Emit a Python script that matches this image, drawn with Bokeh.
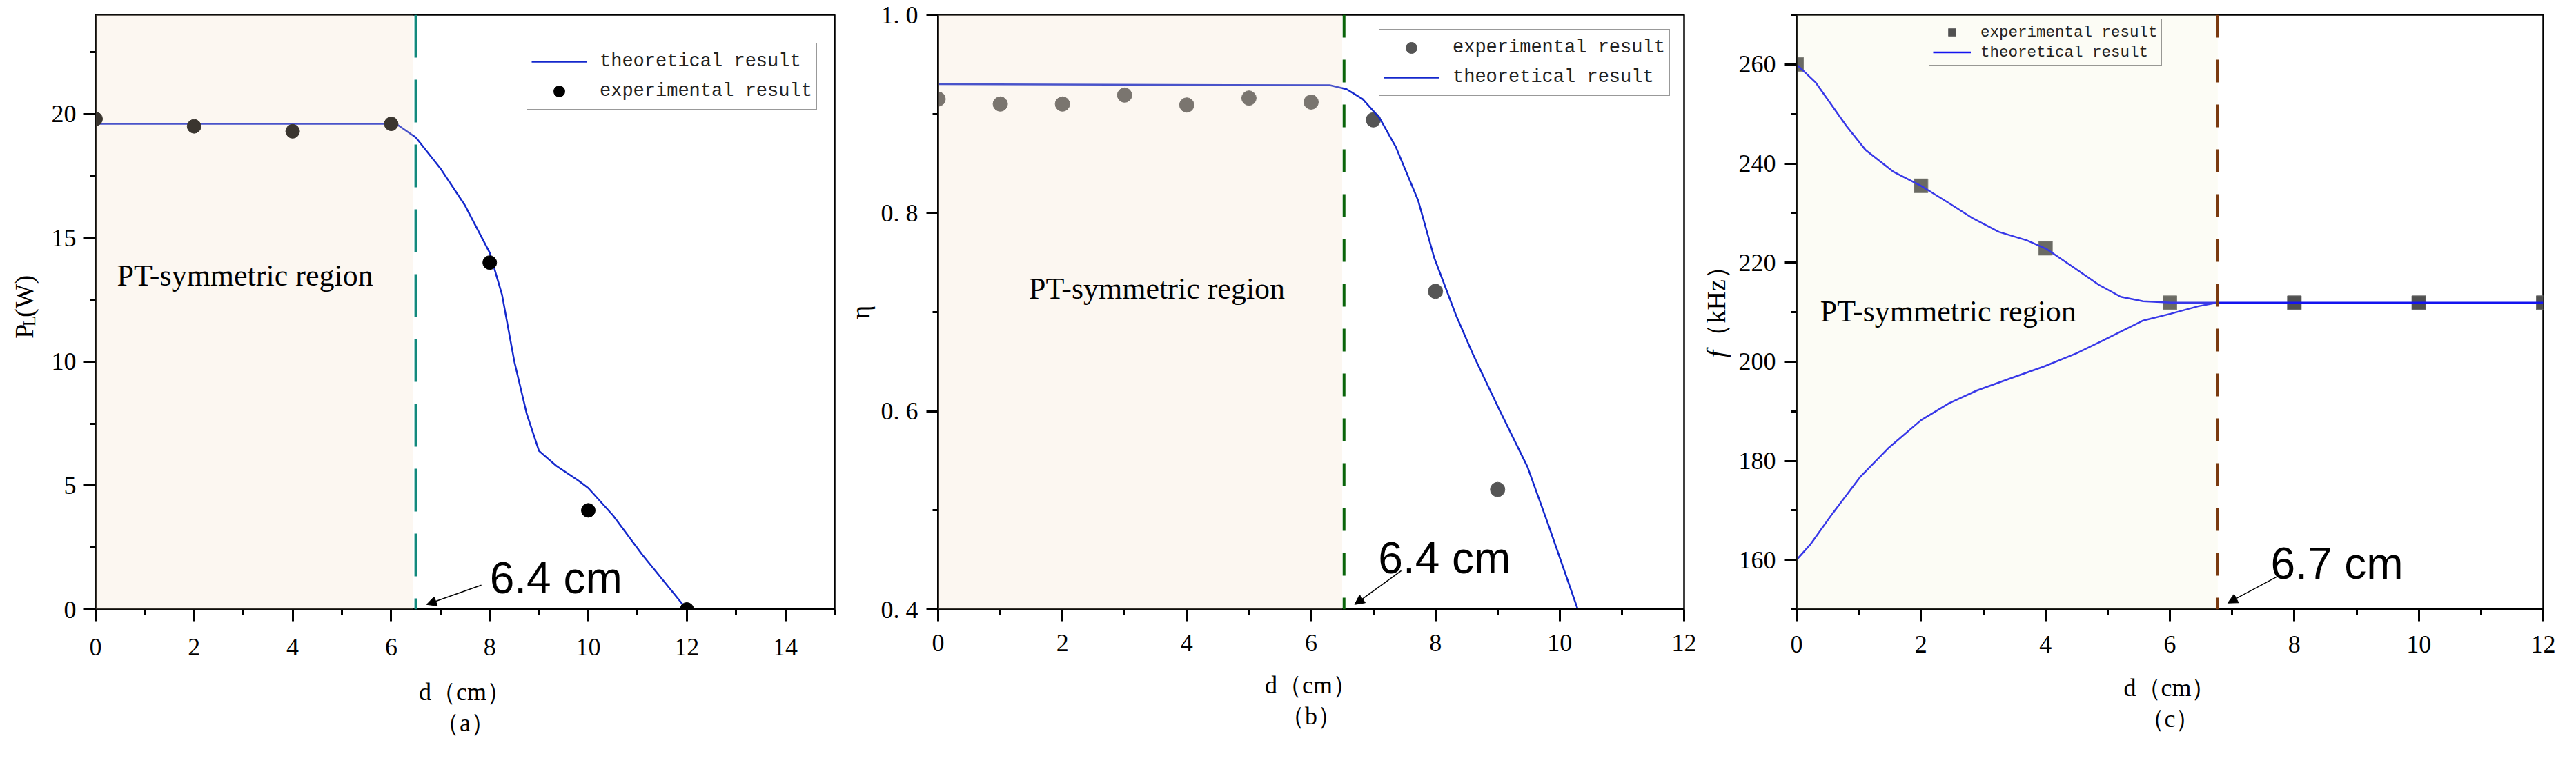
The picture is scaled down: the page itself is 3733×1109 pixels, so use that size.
import math
from bokeh.plotting import figure
from bokeh.layouts import row
from bokeh.models import (Range1d, FixedTicker, BoxAnnotation, Span, Label, Arrow,
                          NormalHead, Legend, LegendItem, Title)
from bokeh.embed import file_html
from bokeh.resources import INLINE

# ---------------- data ----------------
# (a) load power
pa_exp_x = [0, 2, 4, 6, 8, 10, 12]
pa_exp_y = [19.8, 19.5, 19.3, 19.6, 14.0, 4.0, 0.0]
pa_th_x = [0, 6.1, 6.5, 7.0, 7.5, 8.0, 8.25, 8.5, 8.75, 9.0, 9.35, 9.8, 10.0, 10.5, 11.1, 12.0]
pa_th_y = [19.6, 19.6, 19.05, 17.8, 16.3, 14.4, 12.7, 10.0, 7.9, 6.4, 5.8, 5.2, 4.9, 3.8, 2.2, 0.0]
pa_xticks = [0, 2, 4, 6, 8, 10, 12, 14]
pa_yticks = [0, 5, 10, 15, 20]

# (b) efficiency
pb_exp_x = [0, 1, 2, 3, 4, 5, 6, 7, 8, 9]
pb_exp_y = [0.915, 0.910, 0.910, 0.919, 0.909, 0.916, 0.912, 0.894, 0.721, 0.521]
pb_th_x = [0, 6.3, 6.57, 6.83, 7.1, 7.36, 7.72, 7.98, 8.33, 8.6, 9.04, 9.48, 9.83, 10.29]
pb_th_y = [0.930, 0.929, 0.925, 0.915, 0.896, 0.867, 0.813, 0.755, 0.697, 0.658, 0.600, 0.544, 0.483, 0.400]
pb_xticks = [0, 2, 4, 6, 8, 10, 12]
pb_yticks = [0.4, 0.6, 0.8, 1.0]
pb_ylabels = ["0. 4", "0. 6", "0. 8", "1. 0"]

# (c) frequency
pc_exp_x = [0, 2, 4, 6, 8, 10, 12]
pc_exp_y = [260, 235.5, 222.9, 211.9, 211.9, 211.9, 211.9]
pc_up_x = [0, 0.31, 0.8, 1.11, 1.56, 2.0, 2.45, 2.81, 3.25, 3.7, 4.01, 4.41, 4.86, 5.21, 5.57, 6.02, 6.76, 12]
pc_up_y = [260, 256.3, 247.6, 242.7, 238.3, 235.5, 232.0, 229.1, 226.2, 224.5, 222.8, 219.4, 215.5, 213.1, 212.2, 211.9, 211.9, 211.9]
pc_lo_x = [0, 0.22, 0.58, 1.02, 1.47, 2.0, 2.45, 2.9, 3.43, 3.97, 4.5, 5.04, 5.57, 6.02, 6.46, 6.76]
pc_lo_y = [160, 163.1, 169.4, 176.7, 182.5, 188.2, 191.6, 194.2, 196.6, 199.0, 201.7, 205.0, 208.3, 209.7, 211.2, 211.9]
pc_xticks = [0, 2, 4, 6, 8, 10, 12]
pc_yticks = [160, 180, 200, 220, 240, 260]

# exceptional-point boundaries and annotations
boundary = {"a": 6.5, "b": 6.53, "c": 6.77}
region_end = {"a": 6.45, "b": 6.5, "c": 6.77}
ep_text = {"a": "6.4 cm", "b": "6.4 cm", "c": "6.7 cm"}

SERIF = "Liberation Serif"
MONO = "Liberation Mono"
SANS = "Liberation Sans"
H = 1093


def base_fig(width, height, left, right, top, bottom, xr, yr, tick_st, label_st):
    p = figure(width=width, height=height, output_backend="svg", toolbar_location=None,
               x_range=Range1d(*xr), y_range=Range1d(*yr),
               min_border_left=left, min_border_right=right,
               min_border_top=top, min_border_bottom=bottom)
    p.grid.visible = False
    p.outline_line_color = "black"
    p.outline_line_width = 2.5
    p.background_fill_color = "white"
    p.border_fill_color = "white"
    for ax in (p.xaxis[0], p.yaxis[0]):
        ax.axis_line_width = 3
        ax.axis_line_color = "black"
        ax.major_tick_line_width = 3
        ax.minor_tick_line_width = 3
        ax.major_tick_out = 17
        ax.major_tick_in = 0
        ax.minor_tick_out = 8
        ax.minor_tick_in = 0
        ax.major_label_text_font = SERIF
        ax.major_label_text_font_size = "36px"
        ax.major_label_text_color = "black"
        ax.axis_label_text_font = SERIF
        ax.axis_label_text_font_style = "normal"
        ax.axis_label_text_font_size = "36px"
        ax.axis_label_text_color = "black"
    p.xaxis[0].major_label_standoff = tick_st
    p.yaxis[0].major_label_standoff = 11
    p.xaxis[0].axis_label = "d（cm）"
    p.xaxis[0].axis_label_standoff = label_st
    return p


def label_strip(width):
    """Narrow figure (no axes) holding a rotated y-axis title outside the plot frame."""
    s = figure(width=width, height=H, output_backend="svg", toolbar_location=None,
               x_range=Range1d(0, width), y_range=Range1d(0, H),
               x_axis_location=None, y_axis_location=None,
               min_border_left=0, min_border_right=0, min_border_top=0, min_border_bottom=0)
    s.grid.visible = False
    s.outline_line_color = None
    s.background_fill_color = "white"
    s.border_fill_color = "white"
    return s


def add_panel_title(p, text, standoff):
    t = Title(text=text, align="center", text_font=SERIF, text_font_size="36px",
              text_font_style="normal", text_color="black", standoff=standoff)
    p.add_layout(t, "below")


def add_ep(p, key, dash_color, dash, xy_text, arrow_xy, region_color, region_alpha):
    p.add_layout(BoxAnnotation(left=p.x_range.start, right=region_end[key],
                               fill_color=region_color, fill_alpha=region_alpha,
                               line_color=None))
    p.add_layout(Span(location=boundary[key], dimension="height", line_color=dash_color,
                      line_width=4, line_dash=dash))
    p.add_layout(Label(x=xy_text[0], y=xy_text[1], text=ep_text[key], text_font=SANS,
                       text_font_size="64px", text_baseline="alphabetic", text_color="black"))
    p.add_layout(Arrow(end=NormalHead(size=14, fill_color="black", line_color="black", line_width=1),
                       x_start=arrow_xy[0], y_start=arrow_xy[1], x_end=arrow_xy[2], y_end=arrow_xy[3],
                       line_color="black", line_width=1.5))


def region_label(p, x, y):
    p.add_layout(Label(x=x, y=y, text="PT-symmetric region", text_font=SERIF,
                       text_font_size="44px", text_baseline="middle", text_color="black"))


def rot_label(p, x, y, text, size="38px", style="normal"):
    p.add_layout(Label(x=x, y=y, text=text, angle=math.pi / 2, text_font=SERIF,
                       text_font_size=size, text_font_style=style, text_baseline="middle",
                       text_align="left", text_color="black"))


# ---------------- y title strip for (a) ----------------
la = label_strip(70)
rot_label(la, 34, 498, "P")
rot_label(la, 42, 520, "L", size="26px")
rot_label(la, 34, 537, "(W)")

# ---------------- (a) ----------------
pa = base_fig(1152, H, 68, 13, 17, 210, (0, 15), (0, 24), 25, 30)
pa.xaxis[0].ticker = FixedTicker(ticks=pa_xticks, minor_ticks=list(range(1, 16, 2)))
pa.yaxis[0].ticker = FixedTicker(ticks=pa_yticks, minor_ticks=[2.5, 7.5, 12.5, 17.5, 22.5])
ra_line = pa.line(pa_th_x, pa_th_y, line_color="#1428cc", line_width=2.5)
ra_pts = pa.scatter(pa_exp_x, pa_exp_y, marker="circle", size=20, fill_color="black",
                    line_color="black")
add_ep(pa, "a", "#12897c", "62 32", (8.0, 1.28), (7.83, 0.98, 6.72, 0.2), "#f1dcc6", 0.24)
region_label(pa, 0.435, 13.47)
leg_a = Legend(items=[LegendItem(label="theoretical result", renderers=[ra_line]),
                      LegendItem(label="experimental result", renderers=[ra_pts])],
               location=(625, 724))
pa.add_layout(leg_a)
add_panel_title(pa, "（a）", 0)

# ---------------- (b) ----------------
pb = base_fig(1240, H, 134, 22, 21, 201, (0, 12), (0.4, 1.0), 19, 26)
pb.xaxis[0].ticker = FixedTicker(ticks=pb_xticks, minor_ticks=list(range(1, 12, 2)))
pb.yaxis[0].ticker = FixedTicker(ticks=pb_yticks, minor_ticks=[0.5, 0.7, 0.9])
overrides = {}
for v, s in zip(pb_yticks, pb_ylabels):
    overrides[v] = s
    overrides[str(v)] = s
pb.yaxis[0].major_label_overrides = overrides
pb.yaxis[0].major_label_standoff = 12
pb.yaxis[0].axis_label = "η"
pb.yaxis[0].axis_label_standoff = 6
pb.yaxis[0].axis_label_text_font_size = "38px"
rb_pts = pb.scatter(pb_exp_x, pb_exp_y, marker="circle", size=21, fill_color="#555555",
                    line_color="#555555")
rb_line = pb.line(pb_th_x, pb_th_y, line_color="#1428cc", line_width=2.5)
add_ep(pb, "b", "#0a640a", "33 32", (7.08, 0.452), (7.45, 0.439, 6.70, 0.405), "#f1dcc6", 0.24)
region_label(pb, 1.46, 0.7235)
leg_b = Legend(items=[LegendItem(label="experimental result", renderers=[rb_pts]),
                      LegendItem(label="theoretical result", renderers=[rb_line])],
               location=(639, 744))
pb.add_layout(leg_b)
add_panel_title(pb, "（b）", 0)

# ---------------- y title strip for (c) ----------------
lc = label_strip(50)
rot_label(lc, 24, 463, "f", style="italic")
rot_label(lc, 24, 478, "（kHz）")

# ---------------- (c) ----------------
pc = base_fig(1205, H, 91, 32, 18, 199, (0, 12), (150, 270), 21, 28)
pc.xaxis[0].ticker = FixedTicker(ticks=pc_xticks, minor_ticks=list(range(1, 12, 2)))
pc.yaxis[0].ticker = FixedTicker(ticks=pc_yticks, minor_ticks=[150, 170, 190, 210, 230, 250, 270])
pc.yaxis[0].major_label_standoff = 13
rc_pts = pc.scatter(pc_exp_x, pc_exp_y, marker="square", size=20, fill_color="#505050",
                    line_color="#6a6a6a")
rc_up = pc.line(pc_up_x, pc_up_y, line_color="#1414f0", line_width=2.5)
rc_lo = pc.line(pc_lo_x, pc_lo_y, line_color="#1414f0", line_width=2.5)
leg_c = Legend(items=[LegendItem(label="experimental result", renderers=[rc_pts]),
                      LegendItem(label="theoretical result", renderers=[rc_up])],
               location=(192, 788))
pc.add_layout(leg_c)
add_ep(pc, "c", "#7a3a0f", "33 32", (7.62, 159.2), (7.75, 156.8, 6.93, 151.3), "#ededc2", 0.17)
region_label(pc, 0.38, 210.2)
add_panel_title(pc, "（c）", 1)

# legend styling
for leg, fs, gw, gh, st, pad, sp, bg in ((leg_a, "27px", 80, 40, 19, 6, 3, 1.0),
                                          (leg_b, "27px", 80, 40, 20, 6, 3, 1.0),
                                          (leg_c, "22.5px", 55, 27, 14, 5, 2, 0.0)):
    leg.label_text_font = MONO
    leg.label_text_font_size = fs
    leg.label_text_color = "#222222"
    leg.glyph_width = gw
    leg.glyph_height = gh
    leg.label_height = gh
    leg.label_standoff = st
    leg.padding = pad
    leg.spacing = sp
    leg.margin = 0
    leg.border_line_color = "#333333"
    leg.border_line_width = 1.5
    leg.background_fill_color = "white"
    leg.background_fill_alpha = bg

layout = row(la, pa, pb, lc, pc)
open("out.html", "w").write(file_html(layout, INLINE))
